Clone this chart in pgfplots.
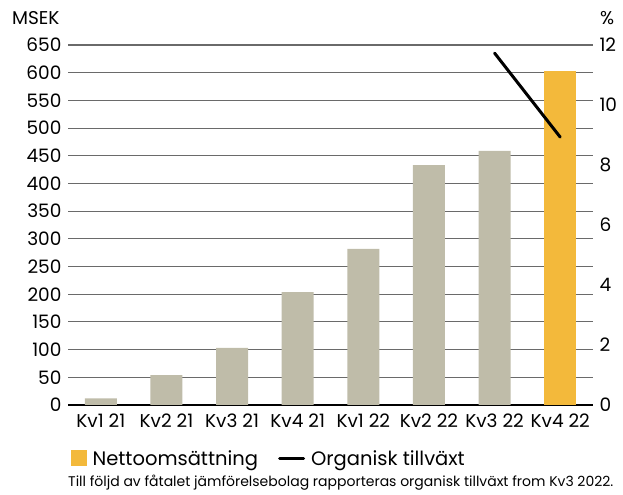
\documentclass[border=0pt]{standalone}
\usepackage{pgfplots}
\pgfplotsset{compat=1.18}
\usepackage{fontspec}
\setmainfont{Poppins}
\definecolor{barg}{HTML}{BFBCA9}
\definecolor{bary}{HTML}{F3B93B}
\definecolor{gridc}{HTML}{6A6A6A}
\begin{document}
\begin{tikzpicture}[font=\fontsize{18.5}{20}\selectfont]
\begin{axis}[name=main,
  scale only axis, width=525pt, height=360pt,
  xmin=-0.5, xmax=7.5, ymin=0, ymax=650,
  ytick={0,50,...,650}, xtick={0,...,7},
  xticklabels={Kv1 21,Kv2 21,Kv3 21,Kv4 21,Kv1 22,Kv2 22,Kv3 22,Kv4 22},
  axis lines*=left,
  y axis line style={draw=none},
  x axis line style={black, line width=1.2pt, -},
  major tick length=0pt,
  ymajorgrids, grid style={gridc, line width=1.1pt},
  /pgf/number format/assume math mode=true,
  yticklabel style={xshift=-3pt},
  xticklabel style={yshift=-5pt},
  ybar, bar width=32pt, bar shift=0pt,
  clip=false,
]
\addplot[fill=barg, draw=none] coordinates {(0,12) (1,54) (2,103) (3,204) (4,282) (5,433) (6,459)};
\addplot[fill=bary, draw=none] coordinates {(7,603)};
\end{axis}
\begin{axis}[
  scale only axis, width=525pt, height=360pt,
  xmin=-0.5, xmax=7.5, ymin=0, ymax=12,
  ytick={0,2,...,12},
  axis y line*=right, axis x line=none,
  y axis line style={draw=none},
  major tick length=0pt,
  /pgf/number format/assume math mode=true,
  yticklabel style={xshift=3pt},
  legend style={at={(0,0)}, anchor=north west, xshift=0pt, yshift=-41pt, draw=none, fill=none,
    legend columns=2, font=\fontsize{19.5}{21}\selectfont,
    nodes={inner xsep=6pt},
    /tikz/every even column/.style={column sep=14pt}},
]
\addlegendimage{legend image code/.code={\fill[bary] (0pt,-7pt) rectangle (15pt,8pt);}}
\addlegendentry{Nettoomsättning}
\addplot[black, line width=3pt, line cap=round,
  legend image code/.code={\draw[black,line width=3pt] (0pt,0pt) -- (24pt,0pt);}]
  coordinates {(6,11.73) (7,8.93)};
\addlegendentry{Organisk tillväxt}
\end{axis}
\node[anchor=base west, inner sep=0pt] at ([xshift=-56pt, yshift=20pt]main.north west) {MSEK};
\node[anchor=base west, inner sep=0pt] at ([xshift=7pt, yshift=20pt]main.north east) {\%};
\node[anchor=base west, inner sep=0pt, font=\fontsize{14}{16}\selectfont] at ([yshift=-82pt]main.south west) {Till följd av fåtalet jämförelsebolag rapporteras organisk tillväxt from Kv3 2022.};
\pgfresetboundingbox
\path[use as bounding box] ([xshift=-68pt, yshift=-90pt]main.south west) rectangle ([xshift=30pt, yshift=45pt]main.north east);
\end{tikzpicture}
\end{document}
